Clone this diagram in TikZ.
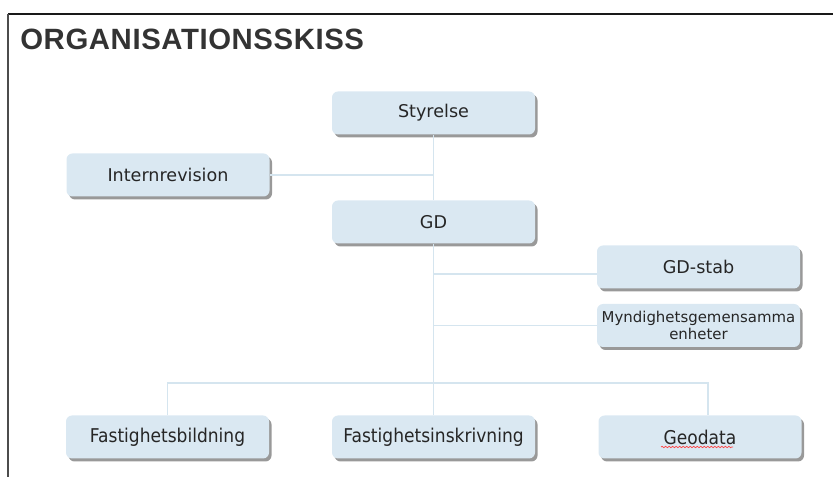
\documentclass[tikz,border=0pt]{standalone}
\usepackage{fontspec}
\setmainfont{DejaVu Sans}
\newfontfamily\titlefont[LetterSpace=2.0]{Liberation Sans}
\newfontfamily\narrowfont[FakeStretch=0.9]{DejaVu Sans}
\usetikzlibrary{shadows}
\usetikzlibrary{decorations.pathmorphing}
\definecolor{boxblue}{HTML}{DAE8F2}
\definecolor{linkblue}{HTML}{D5E5EF}
\definecolor{titlegray}{HTML}{333333}

\begin{document}
\begin{tikzpicture}[
	unit/.style={fill=boxblue, rounded corners=0.12cm, minimum width=4.06cm, minimum height=0.86cm, inner sep=0pt, align=center, text=black!85, font=\fontsize{10}{12}\selectfont, drop shadow={shadow xshift=0.05cm, shadow yshift=-0.06cm, opacity=0.4, fill=black}},
	lowunit/.style={unit, font=\narrowfont\fontsize{10.8}{13}\selectfont},
	link/.style={draw=linkblue, line width=0.7pt}]

	%Size
	\useasboundingbox (0,0) rectangle (16.66,-9.54);

	%Frame
	\draw[line width=1.1pt, draw=black!90] (0.16,-0.28) -- (16.66,-0.28);
	\draw[line width=0.9pt, draw=black!70] (0.16,-0.28) -- (0.16,-9.54);

	%Title
	\node[anchor=base west, inner sep=0pt, text=titlegray, font=\titlefont\bfseries\fontsize{16.7}{20}\selectfont] (title) at (0.40,-0.99) {ORGANISATIONSSKISS};

	%Top
	\node[unit] (sty) at (8.67,-2.26) {Styrelse};
	\node[unit] (intrev) at (3.36,-3.50) {Internrevision};
	\node[unit] (gd) at (8.67,-4.44) {GD};

	%Staff
	\node[unit] (gdstab) at (13.97,-5.34) {GD-stab};
	\node[unit, font=\fontsize{8.5}{9.6}\selectfont] (gemen) at (13.97,-6.51) {Myndighetsgemensamma\\enheter};

	%Divisions
	\node[lowunit] (fbild) at (3.35,-8.74) {Fastighetsbildning};
	\node[lowunit] (finsk) at (8.67,-8.74) {Fastighetsinskrivning};
	\node[lowunit] (geo) at (14.0,-8.74) {Geodata};
	\draw[decorate, decoration={snake, segment length=2pt, amplitude=0.4pt}, draw=red!75, line width=0.4pt] (13.22,-8.94) -- (14.66,-8.94);

	%Links
	\coordinate (stabin) at ([yshift=-0.14cm]gdstab.west);
	\coordinate (geotop) at ([xshift=0.16cm]geo.north);
	\coordinate (bus) at (8.67,-7.66);
	\draw[link] (sty) -- (gd);
	\draw[link] (gd) -- (finsk);
	\draw[link] (intrev.east) -- (intrev.east -| sty);
	\draw[link] (stabin) -- (stabin -| gd);
	\draw[link] (gemen.west) -- (gemen.west -| gd);
	\draw[link] (fbild.north) |- (bus) -| (geotop);

\end{tikzpicture}
\end{document}
